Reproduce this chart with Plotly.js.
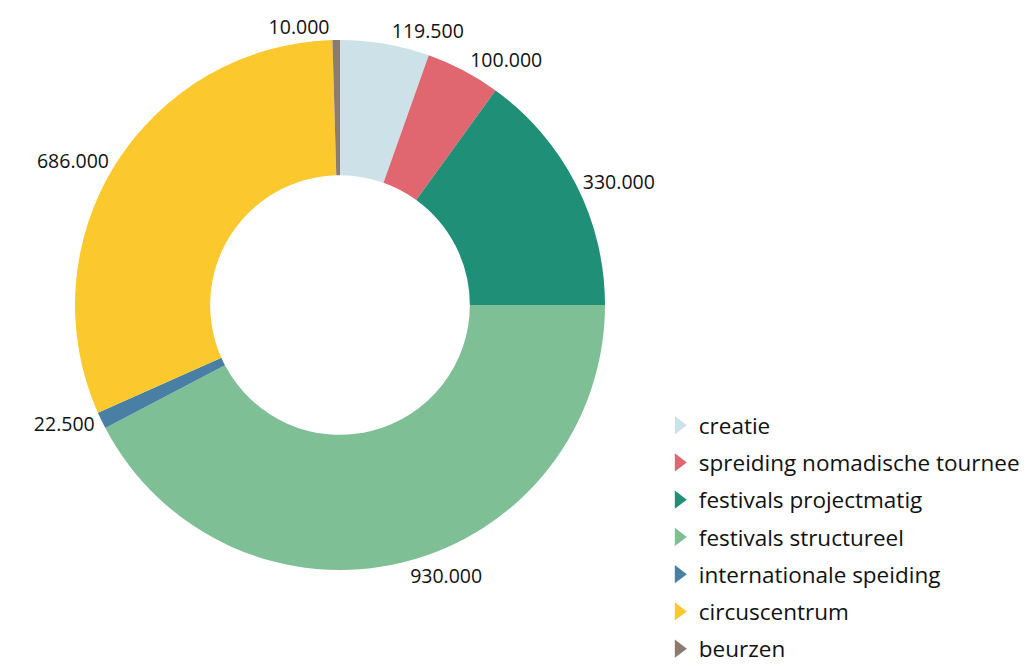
<!DOCTYPE html>
<html>
<head>
<meta charset="utf-8">
<script src="https://cdn.plot.ly/plotly-3.0.1.min.js"></script>
<style>html,body{margin:0;padding:0;background:#fff;}#chart{width:1031px;height:668px;}</style>
</head>
<body>
<div id="chart"></div>
<script>
const categories = ["creatie", "spreiding nomadische tournee", "festivals projectmatig", "festivals structureel", "internationale speiding", "circuscentrum", "beurzen"];
const values = [119500, 100000, 330000, 930000, 22500, 686000, 10000];
const colors = ["#cde2e8", "#e06670", "#1f9077", "#7fbf96", "#4a7fa5", "#fbc82d", "#8c7b70"];

const W = 1031, H = 668;
const cx = 340, cy = 305, R = 265;
const FONT = "'Open Sans', sans-serif";

const pie = {
  type: "pie",
  labels: categories,
  values: values,
  marker: {colors: colors, line: {width: 0}},
  sort: false,
  direction: "clockwise",
  rotation: 0,
  hole: 0.49,
  textposition: "outside",
  texttemplate: "%{value:,}",
  textfont: {family: FONT, size: 19.5, color: "#111"},
  hoverinfo: "label+value",
  domain: {x: [(cx - R) / W, (cx + R) / W], y: [1 - (cy + R) / H, 1 - (cy - R) / H]},
  showlegend: false
};

// legend entries (one per category, wedge-like triangle symbols)
const legendTraces = categories.map((c, i) => ({
  type: "scatter",
  mode: "markers",
  x: [null], y: [null],
  name: c,
  legendgroup: "g" + i,
  marker: {symbol: "triangle-right", size: 16, color: colors[i]},
  hoverinfo: "skip",
  showlegend: true
}));

const layout = {
  width: W, height: H,
  margin: {l: 0, r: 0, t: 0, b: 0, autoexpand: false},
  separators: ",.",
  paper_bgcolor: "#fff",
  plot_bgcolor: "rgba(0,0,0,0)",
  font: {family: FONT, color: "#111"},
  xaxis: {visible: false, domain: [0.99, 1]},
  yaxis: {visible: false, domain: [0.99, 1]},
  legend: {
    x: 0.639, y: 1 - 404 / H, xanchor: "left", yanchor: "top",
    font: {family: FONT, size: 22.5, color: "#111"},
    traceorder: "grouped",
    tracegroupgap: 5,
    itemsizing: "trace"
  }
};

Plotly.newPlot("chart", [pie].concat(legendTraces), layout, {displayModeBar: false, staticPlot: true});
</script>
</body>
</html>
